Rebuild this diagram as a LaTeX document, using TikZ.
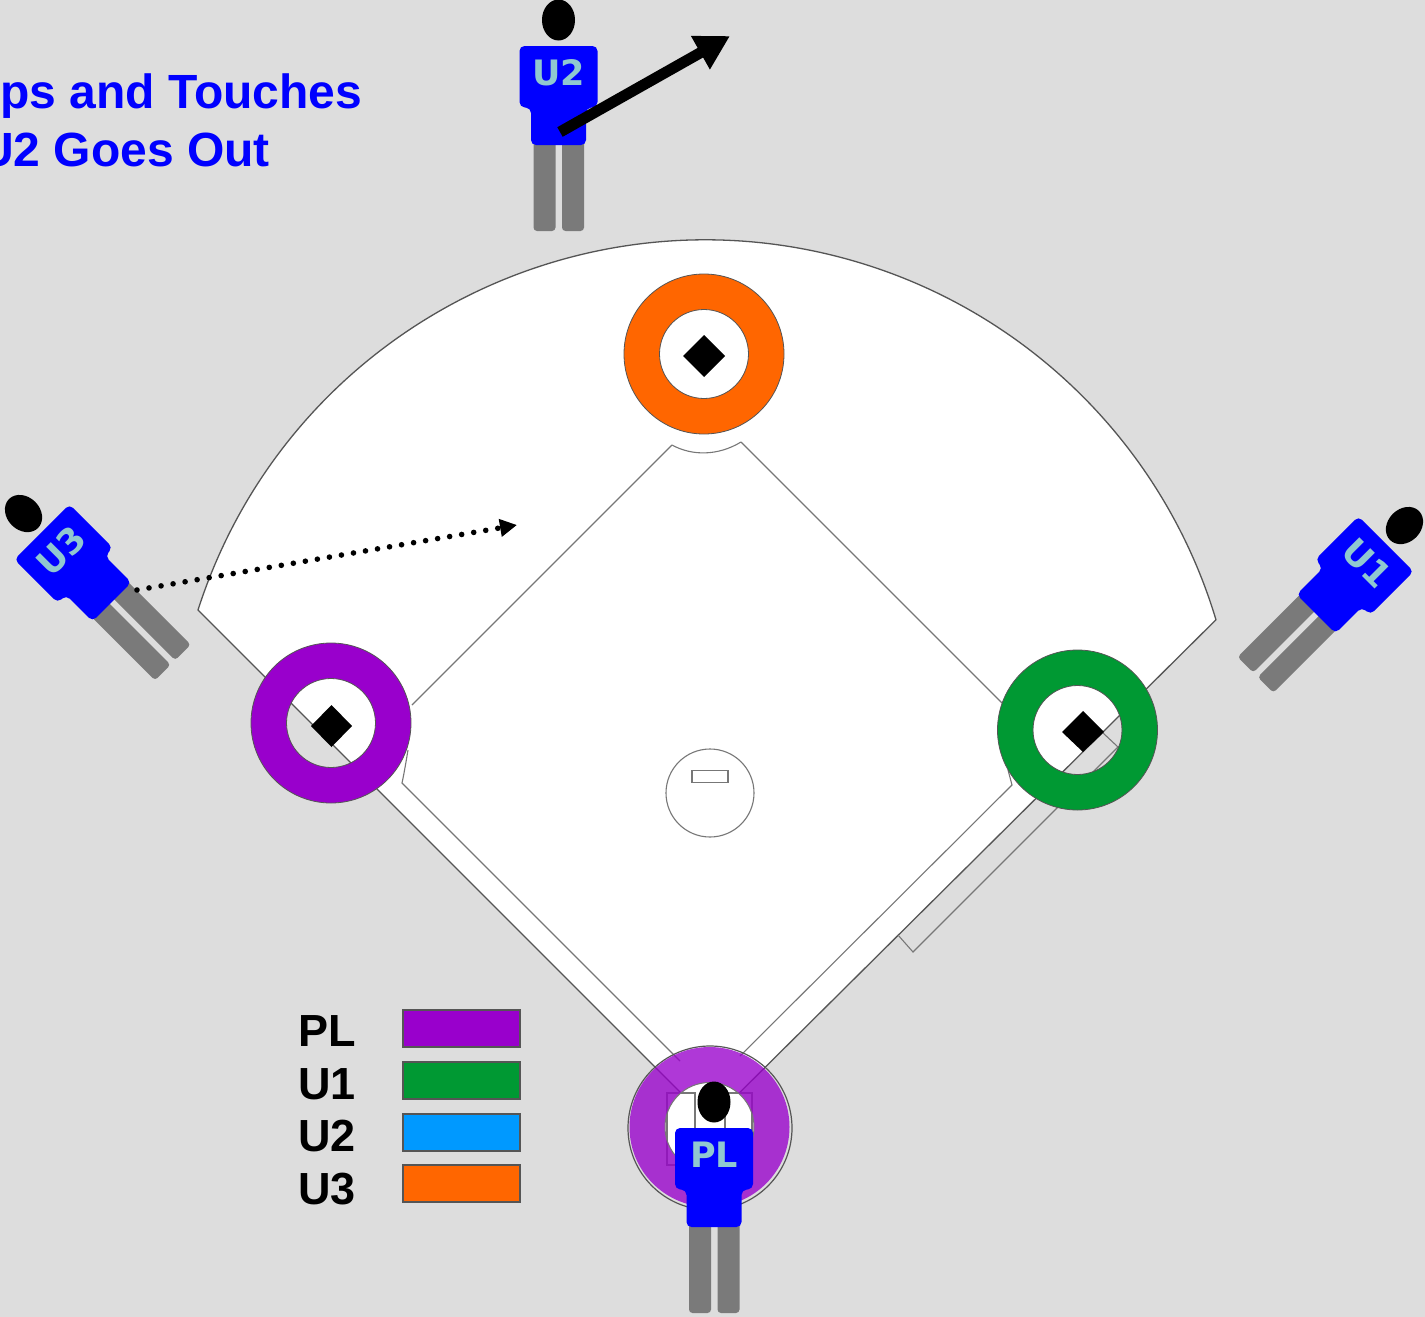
\documentclass[tikz,border=0pt]{standalone}
\usepackage{fontspec}
\setmainfont{Liberation Sans}
\newfontfamily\shirtfont{DejaVu Sans}
\usetikzlibrary{arrows.meta}
\definecolor{pagegray}{HTML}{DDDDDD}
\definecolor{ringpurple}{HTML}{9900CC}
\definecolor{ringgreen}{HTML}{009933}
\definecolor{ringblue}{HTML}{0099FF}
\definecolor{ringorange}{HTML}{FF6600}
\definecolor{shirtblue}{HTML}{0000FF}
\definecolor{trousers}{HTML}{7A7A7A}
\definecolor{shirttext}{HTML}{90C8D0}
\definecolor{edgedark}{HTML}{555555}
\definecolor{edgesoft}{HTML}{777777}
\tikzset{
  fieldedge/.style={draw=edgedark,line width=1.3pt,line join=miter},
  thinline/.style={draw=edgesoft,line width=1.1pt},
  basering/.style={even odd rule,draw=edgedark,line width=0.8pt},
  basebag/.style={fill=black},
  legendswatch/.style={draw=edgedark,line width=1.2pt},
  legendtext/.style={font=\bfseries\fontsize{45}{50}\selectfont,anchor=base west,inner sep=0pt,text=black},
  titletext/.style={font=\bfseries\fontsize{48}{52}\selectfont,text=shirtblue,inner sep=0pt},
  pics/umpire/.style={code={
    \fill[black] (0,53) ellipse [x radius=16.5,y radius=20.5];
    \fill[trousers,rounded corners=3.5pt] (-25,-60) rectangle (-3,-158);
    \fill[trousers,rounded corners=3.5pt] (3.5,-60) rectangle (25.5,-158);
    \fill[shirtblue,rounded corners=5pt]
      (-39,27) -- (39,27) -- (39,-34) -- (27.5,-35) -- (27.5,-72) -- (-27.5,-72)
      -- (-27.5,-35) -- (-39,-34) -- cycle;
    \node[font=\shirtfont\bfseries\fontsize{35}{36}\selectfont,text=shirttext,inner sep=0pt,transform shape] (label) at (0,0) {#1};
  }}
}
\begin{document}
\begin{tikzpicture}[x=1pt,y=1pt]
  \useasboundingbox (0,0) rectangle (1425,-1317);
  \fill[pagegray] (0,0) rectangle (1425,-1317);

  % playing field: outfield arc closed by the two foul lines
  \path[fill=white,fieldedge]
    (198,-610)
    arc [start angle=162.2,end angle=16.7,radius=533]
    -- (710,-1122) -- cycle;

  % infield outlines
  \draw[thinline] (672,-445) -- (412,-705);
  \draw[thinline] (741,-442) -- (1002,-703);
  \draw[thinline] (672,-445) .. controls (692,-456) and (718,-456) .. (741,-442);
  \draw[thinline] (408,-750) .. controls (406,-762) and (404,-774) .. (402,-783) -- (680,-1061);
  \draw[thinline] (1008,-770) -- (1012,-785) -- (740,-1056);

  % coach's box beside first base
  \draw[thinline] (898,-935) -- (913,-952) -- (1118,-747) -- (1103,-733);

  % pitcher's mound and rubber
  \draw[thinline] (710,-793) circle [radius=44];
  \draw[thinline,line width=1.6pt] (692,-770.5) rectangle (728,-782.5);

  % bases
  \fill[basebag] (704,-335) -- (725,-356) -- (704,-377) -- (683,-356) -- cycle;
  \fill[basebag] (331.5,-705) -- (352,-726) -- (331.5,-747) -- (311,-726) -- cycle;
  \fill[basebag] (1083,-711) -- (1104,-732) -- (1083,-752) -- (1062,-732) -- cycle;

  % coverage rings at the bases
  \path[fill=ringorange,basering] (704,-354) circle [radius=80] (704,-354) circle [radius=44.5];
  \path[fill=ringpurple,basering] (331,-723) circle [radius=80] (331,-723) circle [radius=44.5];
  \path[fill=ringgreen,basering] (1077.5,-730) circle [radius=80] (1077.5,-730) circle [radius=44.5];

  % home plate area with batter's boxes seen through the ring
  \draw[draw=edgedark,line width=1.2pt] (710,-1128) circle [radius=82];
  \fill[white] (709.5,-1127) circle [radius=45];
  \draw[thinline,line width=1.4pt] (667,-1093) rectangle (695,-1165);
  \draw[thinline,line width=1.4pt] (725,-1093) rectangle (752,-1165);
  \path[even odd rule,fill=ringpurple,fill opacity=0.78]
    (709.5,-1127) circle [radius=80] (709.5,-1127) circle [radius=44.5];
  \draw[edgesoft,line width=1pt] (709.5,-1127) circle [radius=44.5];

  % umpires
  \pic (ptpl) at (714,-1155) {umpire=PL};
  \pic (ptu2) at (558.5,-73) {umpire=U2};
  \pic[rotate=45] (ptu3) at (61,-551) {umpire=U3};
  \pic[rotate=-45] (ptu1) at (1367,-563) {umpire=U1};

  % movement arrows
  \coordinate (u2from) at (560,-132);
  \coordinate (u2to) at (730,-36);
  \draw[line width=11pt,-{Triangle[length=34pt,width=36pt]}] (u2from) -- (u2to);
  \coordinate (u3from) at (137,-590);
  \coordinate (u3to) at (517,-525);
  \draw[line width=5.6pt,line cap=round,dash pattern=on 0pt off 12.2pt,
        -{Triangle[length=17pt,width=17pt]}] (u3from) -- (u3to);

  % caption, running past the left edge
  \node[titletext,anchor=base west] (captionone) at (0,-108) {ps and Touches};
  \node[titletext,anchor=base east] (captiontwo) at (270,-166) {U2 Goes Out};

  % legend
  \node[legendtext] (lpl) at (298,-1046) {PL};
  \node[legendtext] (lu1) at (298,-1099) {U1};
  \node[legendtext] (lu2) at (298,-1151) {U2};
  \node[legendtext] (lu3) at (298,-1204) {U3};
  \filldraw[fill=ringpurple,legendswatch] (403,-1010) rectangle (520,-1047);
  \filldraw[fill=ringgreen,legendswatch] (403,-1062) rectangle (520,-1099);
  \filldraw[fill=ringblue,legendswatch] (403,-1114) rectangle (520,-1151);
  \filldraw[fill=ringorange,legendswatch] (403,-1165) rectangle (520,-1202);
\end{tikzpicture}
\end{document}
